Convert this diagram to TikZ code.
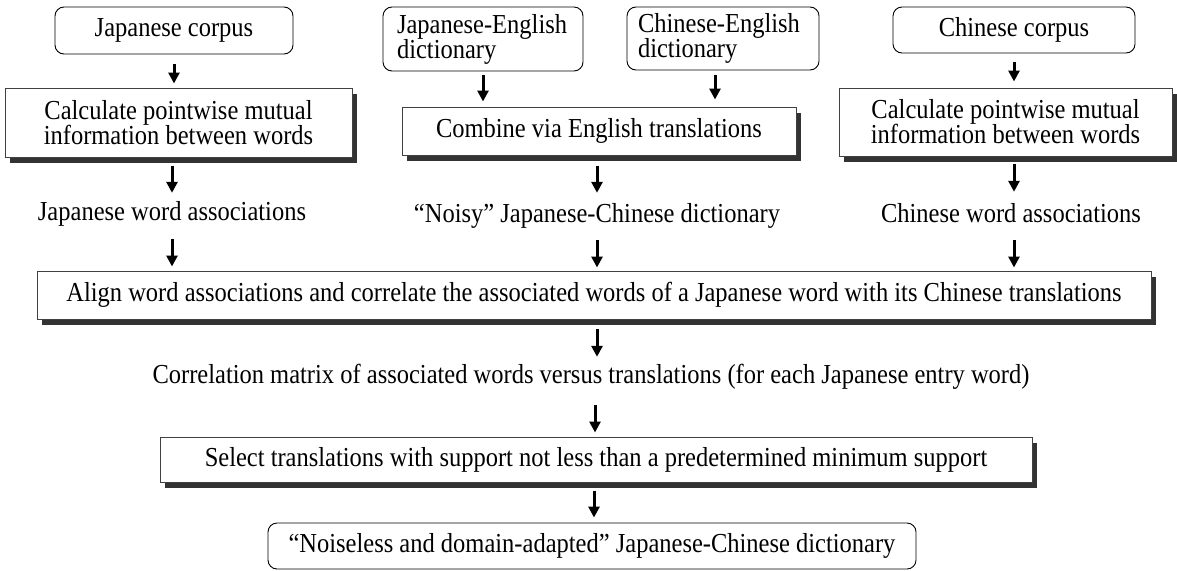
\documentclass[tikz,border=0pt]{standalone}
\usepackage{fontspec}
\usepackage{graphicx}
\setmainfont{Liberation Serif}
\usetikzlibrary{arrows.meta,shadows,calc}
\newcommand\vs[1]{\scalebox{1}[1.12]{#1}}
\begin{document}
\lineskiplimit=-50pt\relax
\begin{tikzpicture}[x=1pt,y=-1pt,
  every node/.style={font=\fontsize{24.5pt}{20pt}\selectfont},
  rbox/.style={draw=black, line width=0.9pt, rounded corners=9pt, inner sep=0pt, fill=white},
  sbox/.style={draw=black!75, line width=1pt, fill=white, inner sep=0pt,
    drop shadow={shadow xshift=5pt, shadow yshift=-6pt, fill=black!80, opacity=1}},
  lbl/.style={inner sep=0pt, text height=17pt, text depth=5pt},
  arr/.style={line width=3pt, -{Triangle[width=11pt,length=11pt]}}]
\useasboundingbox (0,0) rectangle (1177,570);

% top row
\node[rbox, minimum width=238pt, minimum height=47pt] (jc) at (174,30.5) {\vs{Japanese corpus}};
\node[rbox, minimum width=200pt, minimum height=64pt, text width=172pt, align=left,
  font=\fontsize{24.5pt}{25pt}\selectfont] (je) at (483,39) {\vs{Japanese-English}\\\vs{dictionary}};
\node[rbox, minimum width=192pt, minimum height=63pt, text width=170pt, align=left,
  font=\fontsize{24.5pt}{25pt}\selectfont] (ce) at (723,38.5) {\vs{Chinese-English}\\\vs{dictionary}};
\node[rbox, minimum width=242pt, minimum height=46pt] (cc) at (1014,30) {\vs{Chinese corpus}};

% processing boxes
\node[sbox, minimum width=347pt, minimum height=69pt, align=center,
  font=\fontsize{24.5pt}{25pt}\selectfont] (cl) at (178.5,122.5)
  {\vs{Calculate pointwise mutual}\\\vs{information between words}};
\node[sbox, minimum width=394pt, minimum height=48pt] (cb) at (599,131)
  {\vs{Combine via English translations}};
\node[sbox, minimum width=333pt, minimum height=68pt, align=center,
  font=\fontsize{24.5pt}{25pt}\selectfont] (cr) at (1005.5,122)
  {\vs{Calculate pointwise mutual}\\\vs{information between words}};

% intermediate texts
\node[lbl, anchor=base] (jwa) at (172,220) {\vs{Japanese word associations}};
\node[lbl, anchor=base] (nz) at (597,222) {\vs{“Noisy” Japanese-Chinese dictionary}};
\node[lbl, anchor=base] (cwa) at (1011,222) {\vs{Chinese word associations}};

\node[sbox, minimum width=1114pt, minimum height=48pt] (al) at (594,295)
  {\vs{Align word associations and correlate the associated words of a Japanese word with its Chinese translations}};

\node[lbl, anchor=base] (co) at (591,383)
  {\vs{Correlation matrix of associated words versus translations (for each Japanese entry word)}};

\node[sbox, minimum width=872pt, minimum height=45pt] (se) at (596,459.5)
  {\vs{Select translations with support not less than a predetermined minimum support}};

\node[rbox, minimum width=648pt, minimum height=46pt] (fi) at (592,546)
  {\vs{“Noiseless and domain-adapted” Japanese-Chinese dictionary}};

% arrows
\draw[arr] ([yshift=-10pt]jc.south) -- ($(jc.south |- cl.north)+(0pt,4pt)$);
\draw[arr] ($(jwa.north |- cl.south)+(0pt,-8pt)$) -- ([yshift=10pt]jwa.north);
\draw[arr] ([yshift=-14pt]jwa.south) -- ($(jwa.south |- al.north)+(0pt,4pt)$);

\draw[arr] ([yshift=-4pt]je.south) -- ($(je.south |- cb.north)+(0pt,5pt)$);
\draw[arr] ([xshift=-8pt,yshift=-5pt]ce.south) -- ($(ce.south |- cb.north)+(-8pt,7pt)$);
\draw[arr] ($(nz.north |- cb.south)+(0pt,-10pt)$) -- ([yshift=12pt]nz.north);
\draw[arr] ([yshift=-13pt]nz.south) -- ($(nz.south |- al.north)+(0pt,3pt)$);

\draw[arr] ([yshift=-9pt]cc.south) -- ($(cc.south |- cr.north)+(0pt,6pt)$);
\draw[arr] ($(cc.south |- cr.south)+(0pt,-7pt)$) -- ($(cc.south |- cwa.north)+(0pt,13pt)$);
\draw[arr] ($(cc.south |- cwa.south)+(0pt,-13pt)$) -- ($(cc.south |- al.north)+(0pt,3pt)$);

\draw[arr] ($(nz.south |- al.south)+(0pt,-9pt)$) -- ($(nz.south |- co.north)+(0pt,9pt)$);
\draw[arr] ($(co.south)+(4pt,-17pt)$) -- ($(co.south |- se.north)+(4pt,4pt)$);
\draw[arr] ([xshift=-2pt,yshift=-8pt]se.south) -- ([xshift=2pt,yshift=5pt]fi.north);
\end{tikzpicture}
\end{document}
